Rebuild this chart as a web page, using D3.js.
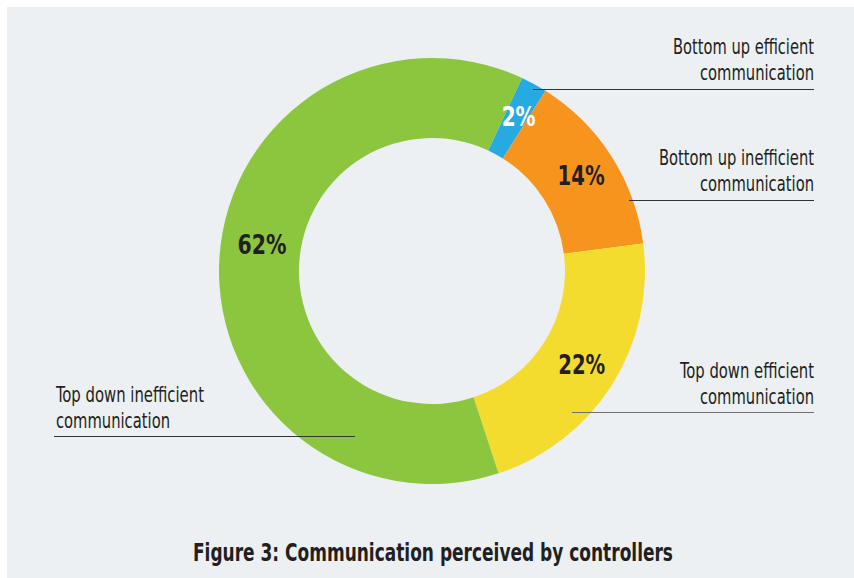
<!DOCTYPE html>
<html>
<head>
<meta charset="utf-8">
<script src="https://cdn.jsdelivr.net/npm/d3@7"></script>
<style>
  html, body { margin: 0; padding: 0; background: #ffffff; }
  svg { display: block; }
  text { font-family: "Liberation Sans Narrow", "DejaVu Sans Condensed", "Roboto", sans-serif; font-stretch: condensed; }
</style>
</head>
<body>
<svg id="chart" width="854" height="578"></svg>
<script>
// ---- data ----
const categories = [
  "Bottom up efficient communication",
  "Bottom up inefficient communication",
  "Top down efficient communication",
  "Top down inefficient communication"
];
const values = [2, 14, 22, 62];
const colors = ["#27aae1", "#f7941d", "#f4dc2f", "#8cc63f"];
const title = "Figure 3: Communication perceived by controllers";

// ---- layout (not data) ----
const W = 854, H = 578;
const cx = 432, cy = 271, rOuter = 213, rInner = 133;
const startDeg = 25.0;

const svg = d3.select("#chart");
svg.append("rect").attr("x", 0).attr("y", 0).attr("width", W).attr("height", H).attr("fill", "#ffffff");
svg.append("rect").attr("x", 7).attr("y", 7).attr("width", W - 7).attr("height", H - 7).attr("fill", "#ecf0f3");

const data = categories.map((c, i) => ({ category: c, value: values[i], color: colors[i] }));

const pie = d3.pie().sort(null).value(d => d.value)
  .startAngle(startDeg * Math.PI / 180)
  .endAngle(startDeg * Math.PI / 180 + 2 * Math.PI);
const arc = d3.arc().innerRadius(rInner).outerRadius(rOuter);
const arcs = pie(data);

const g = svg.append("g").attr("transform", `translate(${cx},${cy})`);
g.selectAll("path.slice").data(arcs).join("path")
  .attr("class", "slice")
  .attr("d", arc)
  .attr("fill", d => d.data.color);

// percentage labels
const rMid = (rInner + rOuter) / 2;
const pctWidths = [34, 47, 47, 49];
g.selectAll("text.pct").data(arcs).join("text")
  .attr("class", "pct")
  .each(function(d, i) {
    const frac = i === 3 ? 0.524 : (i === 0 ? 0.6 : 0.5);
    const r = i === 3 ? rMid - 1 : rMid + 4;
    const a = d.startAngle + (d.endAngle - d.startAngle) * frac;
    const x = r * Math.sin(a), y = -r * Math.cos(a);
    d3.select(this)
      .attr("x", x).attr("y", y + 9)
      .attr("text-anchor", "middle")
      .attr("font-size", 27)
      .attr("font-weight", "bold")
      .attr("fill", i === 0 ? "#ffffff" : "#231f20")
      .attr("textLength", pctWidths[i])
      .attr("lengthAdjust", "spacingAndGlyphs")
      .text(d3.format(".0f")(d.data.value) + "%");
  });

// category labels with leader lines
const labelLayout = [
  { anchor: "end",   x: 814, y1: 54,  w1: 141, w2: 114, lx1: 533, lx2: 814, ly: 89.5,  stroke: "#333333" },
  { anchor: "end",   x: 814, y1: 165, w1: 155, w2: 114, lx1: 629, lx2: 814, ly: 200.5, stroke: "#333333" },
  { anchor: "end",   x: 814, y1: 378, w1: 134, w2: 114, lx1: 572, lx2: 814, ly: 412.5, stroke: "#707070" },
  { anchor: "start", x: 56,  y1: 402, w1: 148, w2: 114, lx1: 54,  lx2: 355, ly: 436.5, stroke: "#333333" }
];
const lineGap = 26;
data.forEach((d, i) => {
  const L = labelLayout[i];
  const words = d.category.split(" ");
  const line1 = words.slice(0, -1).join(" ");
  const line2 = words[words.length - 1];
  [[line1, L.w1, L.y1], [line2, L.w2, L.y1 + lineGap]].forEach(([t, w, y]) => {
    svg.append("text")
      .attr("x", L.x).attr("y", y)
      .attr("text-anchor", L.anchor)
      .attr("font-size", 20.5)
      .attr("fill", "#231f20")
      .attr("textLength", w)
      .attr("lengthAdjust", "spacingAndGlyphs")
      .text(t);
  });
  svg.append("line")
    .attr("x1", L.lx1).attr("x2", L.lx2)
    .attr("y1", L.ly).attr("y2", L.ly)
    .attr("stroke", L.stroke).attr("stroke-width", 1.2);
});

// title
svg.append("text")
  .attr("x", 433).attr("y", 561)
  .attr("text-anchor", "middle")
  .attr("font-size", 24)
  .attr("font-weight", "bold")
  .attr("fill", "#231f20")
  .attr("textLength", 480)
  .attr("lengthAdjust", "spacingAndGlyphs")
  .text(title);
</script>
</body>
</html>
